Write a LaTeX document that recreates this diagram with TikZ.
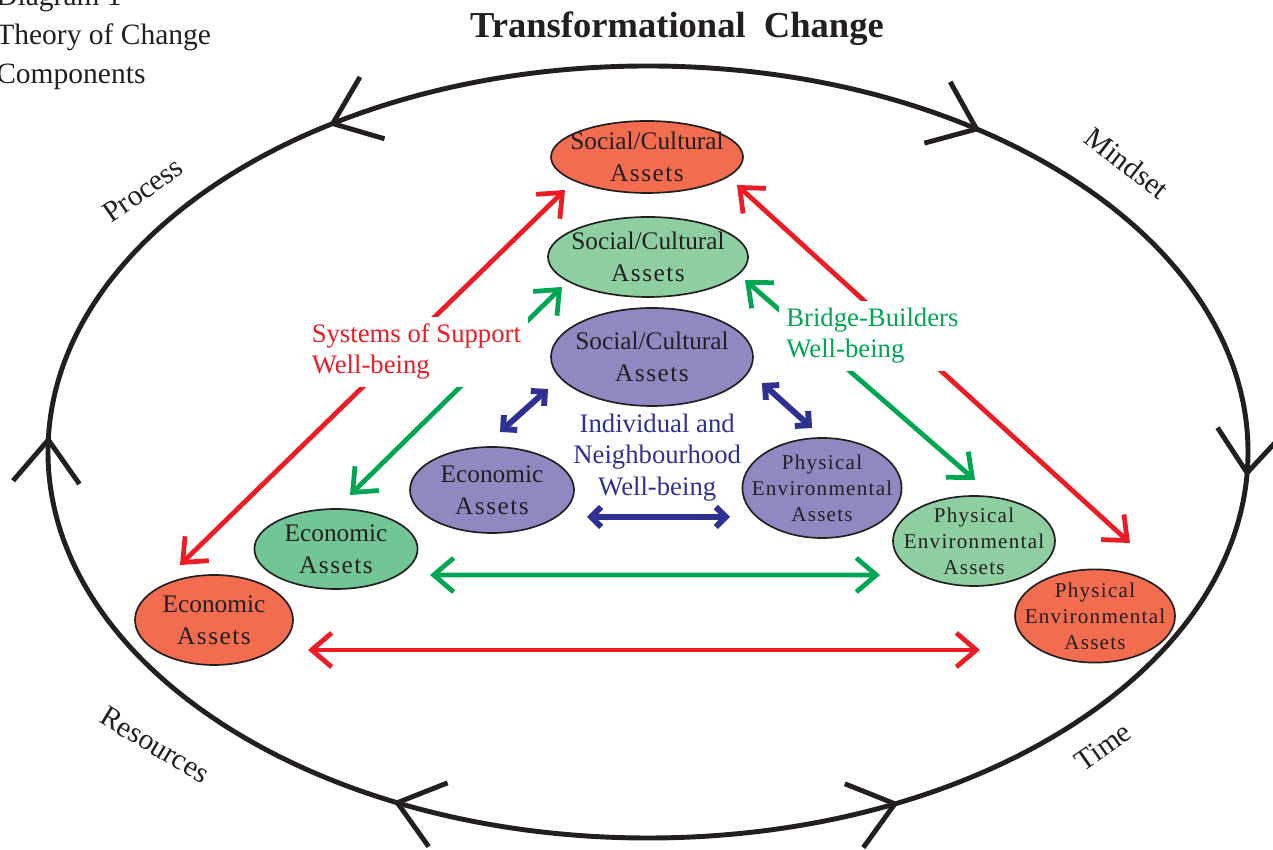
\documentclass[tikz,border=0pt]{standalone}
\usepackage{fontspec}
\setmainfont{Liberation Serif}
\newfontfamily\wideserif[LetterSpace=6]{Liberation Serif}
\usetikzlibrary{calc,shapes.geometric,arrows.meta}

\definecolor{assetred}{HTML}{F26C4F}
\definecolor{assetgreen}{HTML}{8ECFA2}
\definecolor{assetgreendark}{HTML}{72C594}
\definecolor{assetpurple}{HTML}{8F89C2}
\definecolor{linkred}{HTML}{ED1C24}
\definecolor{linkgreen}{HTML}{00A651}
\definecolor{linkblue}{HTML}{2E3192}
\definecolor{ink}{HTML}{231F20}

\tikzset{
	asset/.style={ellipse, draw=ink, line width=1.2pt, inner sep=-20pt, align=center, text=ink, font=\fontsize{18}{22.8}\selectfont},
	physasset/.style={asset, font=\wideserif\fontsize{15}{18.5}\selectfont},
	link/.style={line width=3.4pt, {Straight Barb[length=5mm,width=8.5mm]}-{Straight Barb[length=5mm,width=8.5mm]}},
	bluelink/.style={linkblue, line width=4.2pt, {Straight Barb[length=2.5mm,width=5mm]}-{Straight Barb[length=2.5mm,width=5mm]}},
	tag/.style={fill=white, inner sep=5pt, align=left, font=\fontsize{19}{22.2}\selectfont},
	ringtext/.style={text=ink, font=\fontsize{21}{25}\selectfont},
	ringline/.style={draw=ink, line width=3.5pt},
}

% chevron on the outer loop at parameter angle #1, #2 = 0 (counter-clockwise) or 180
\def\ringmark(#1:#2){%
	\pgfmathsetmacro\markdir{atan2(9.65*cos(#1),-15*sin(#1))+#2}
	\draw[ringline] ($(ring)+({15*cos(#1)},{9.65*sin(#1)})$) +(\markdir+142:1.35) -- +(0,0) -- +(\markdir-142:1.35);}

\begin{document}
\begin{tikzpicture}
		%%%%% START %%%%%
		\useasboundingbox (0,0) rectangle (31.825,21.25);
		
		\node[ringtext, anchor=base west, inner sep=0pt] (diagram) at (-0.1,21.1) {Diagram 1};
		\node[ringtext, anchor=base west, inner sep=0pt] (theory) at (-0.1,20.125) {Theory of Change};
		\node[ringtext, anchor=base west, inner sep=0pt] (components) at (-0.1,19.15) {Components};
		
		\node[text=ink, anchor=base, font=\bfseries\fontsize{26}{30}\selectfont] (title) at (16.925,20.3) {Transformational\ \ Change};
		
		% outer loop
		\coordinate (ring) at (16.2,9.95);
		\draw[ringline] (ring) ellipse (15 and 9.65);
		\foreach \t/\s in {121.7/0, 178.2/180, 245.3/180, 294.3/0, 356.9/180, 56.8/180} {\ringmark(\t:\s)}
		
		\node[ringtext, rotate=35] (process) at (3.575,16.5) {Process};
		\node[ringtext, rotate=-38] (mindset) at (28.175,17.175) {Mindset};
		\node[ringtext, rotate=-31] (resources) at (3.875,2.625) {Resources};
		\node[ringtext, rotate=35] (time) at (27.575,2.575) {Time};
		
		% outer triangle
		\node[asset, fill=assetred, minimum width=4.8cm, minimum height=1.8cm] (rsoc) at (16.175,17.325) {Social/Cultural\\{\wideserif Assets}};
		\node[asset, fill=assetred, minimum width=3.95cm, minimum height=2.25cm] (reco) at (5.35,5.75) {Economic\\{\wideserif Assets}};
		\node[physasset, fill=assetred, minimum width=4cm, minimum height=2.33cm] (rphy) at (27.375,5.85) {Physical\\Environmental\\Assets};
		
		% middle triangle
		\node[asset, fill=assetgreen, minimum width=5cm, minimum height=2cm] (gsoc) at (16.2,14.825) {Social/Cultural\\{\wideserif Assets}};
		\node[asset, fill=assetgreendark, minimum width=4.08cm, minimum height=2cm] (geco) at (8.4,7.525) {Economic\\{\wideserif Assets}};
		\node[physasset, fill=assetgreen, minimum width=4.05cm, minimum height=2.25cm] (gphy) at (24.35,7.725) {Physical\\Environmental\\Assets};
		
		% inner triangle
		\node[asset, fill=assetpurple, minimum width=5.05cm, minimum height=2.45cm] (psoc) at (16.3,12.325) {Social/Cultural\\{\wideserif Assets}};
		\node[asset, fill=assetpurple, minimum width=4.1cm, minimum height=2.15cm] (peco) at (12.3,9) {Economic\\{\wideserif Assets}};
		\node[physasset, fill=assetpurple, minimum width=3.98cm, minimum height=2.5cm] (pphy) at (20.55,9.05) {Physical\\Environmental\\Assets};
		
		\draw[link, linkred] ([shift={(-2.05,-0.825)}]rsoc.center) -- ([shift={(-0.85,1.375)}]reco.center);
		\draw[link, linkred] ([shift={(2.25,-0.7)}]rsoc.center) -- ([shift={(0.875,1.825)}]rphy.center);
		\draw[link, linkred] ([shift={(2.35,-0.75)}]reco.center) -- ([shift={(-2.875,-0.85)}]rphy.center);
		
		\draw[link, linkgreen] ([shift={(-2.15,-0.75)}]gsoc.center) -- ([shift={(0.35,1.35)}]geco.center);
		\draw[link, linkgreen] ([shift={(2.425,-0.575)}]gsoc.center) -- ([shift={(0.025,1.525)}]gphy.center);
		\draw[link, linkgreen] ([shift={(2.35,-0.65)}]geco.center) -- ([shift={(-2.35,-0.85)}]gphy.center);
		
		\draw[bluelink] ([shift={(-2.6,-0.8)}]psoc.center) -- ([shift={(0.2,1.45)}]peco.center);
		\draw[bluelink] ([shift={(2.75,-0.65)}]psoc.center) -- ([shift={(-0.25,1.5)}]pphy.center);
		\draw[bluelink] ([shift={(2.375,-0.675)}]peco.center) -- ([shift={(-2.3,-0.725)}]pphy.center);
		
		\node[tag, text=linkred] (support) at (10.41,12.46) {Systems of Support\\Well-being};
		\node[tag, text=linkgreen] (bridge) at (21.81,12.85) {Bridge-Builders\\Well-being};
		\node[text=linkblue, align=center, font=\fontsize{19}{22.4}\selectfont] (neighbour) at (16.43,9.81) {Individual and\\Neighbourhood\\Well-being};
		
		%%%%% END %%%%%
	\end{tikzpicture}
\end{document}
